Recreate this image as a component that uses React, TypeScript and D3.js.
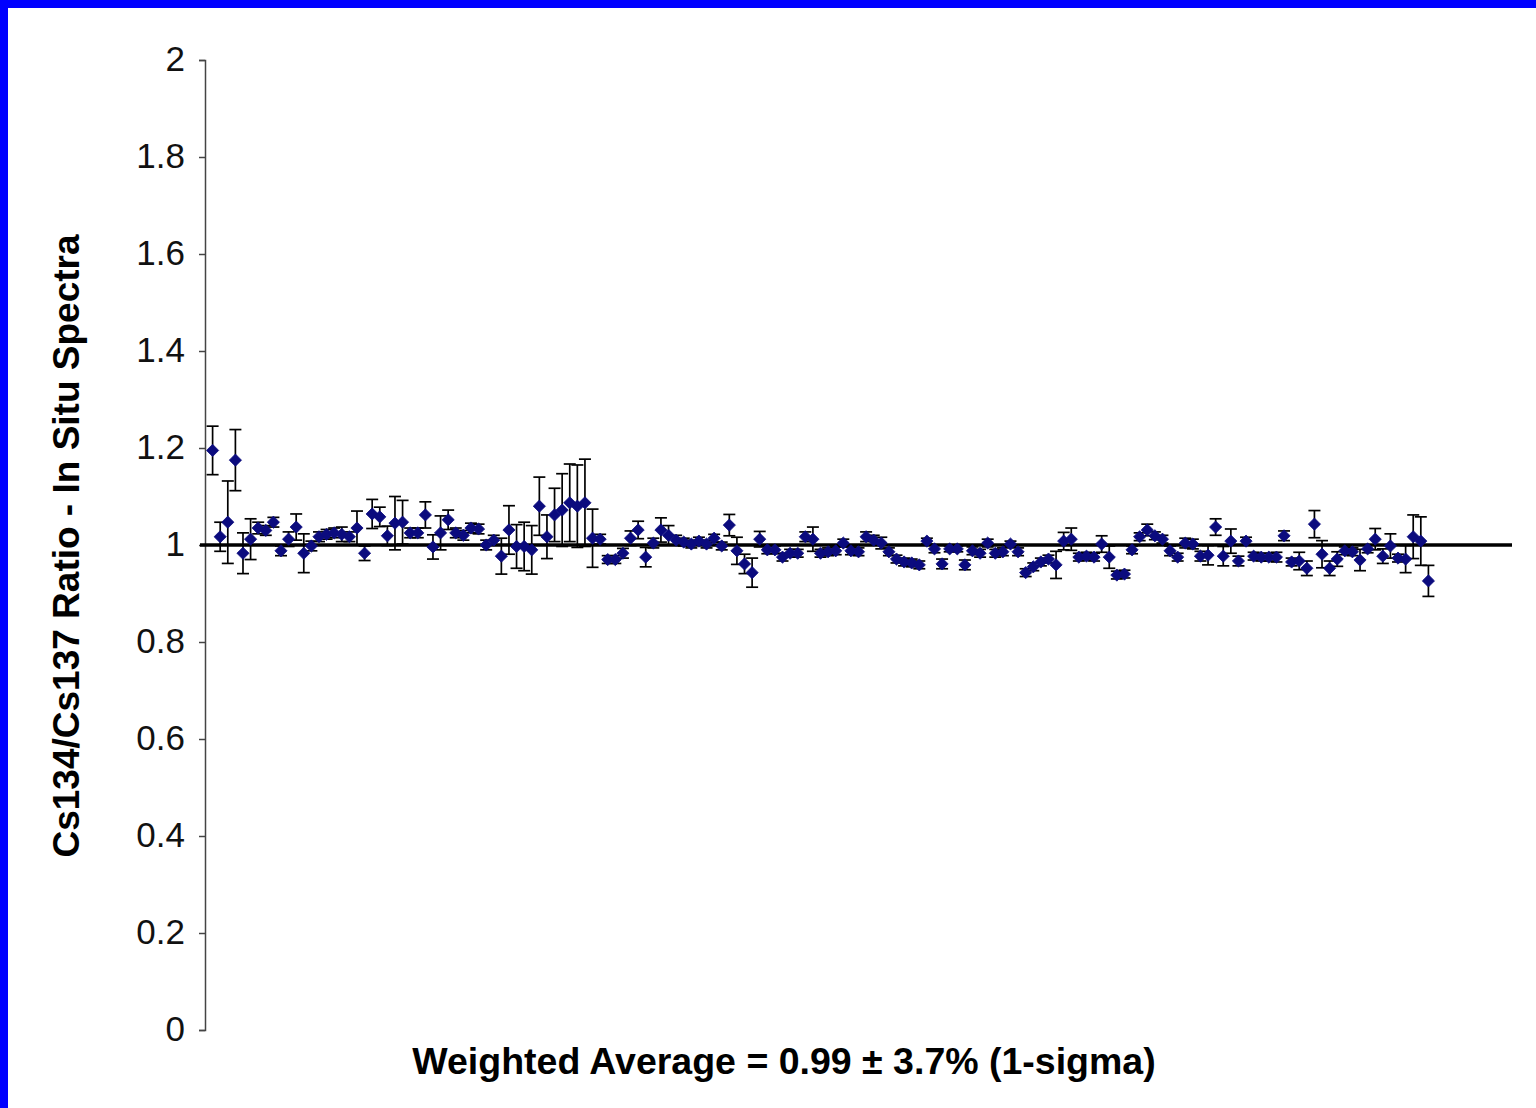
import React, { useEffect, useRef } from "react";
import * as d3 from "d3";

// Cs134/Cs137 ratio per spectrum
const ratios: number[] = [
  1.195, 1.017, 1.047, 1.175, 0.983, 1.012, 1.035, 1.030, 1.047, 0.988,
  1.012, 1.037, 0.983, 0.998, 1.017, 1.022, 1.025, 1.022, 1.017, 1.035,
  0.983, 1.064, 1.058, 1.019, 1.045, 1.047, 1.025, 1.025, 1.062, 0.996,
  1.025, 1.052, 1.025, 1.020, 1.035, 1.033, 1.000, 1.010, 0.977, 1.031,
  0.997, 0.997, 0.990, 1.080, 1.017, 1.062, 1.072, 1.087, 1.080, 1.087,
  1.014, 1.012, 0.970, 0.970, 0.983, 1.014, 1.031, 0.975, 1.004, 1.031,
  1.020, 1.010, 1.006, 1.002, 1.008, 1.002, 1.014, 0.998, 1.041, 0.988,
  0.961, 0.943, 1.012, 0.990, 0.990, 0.975, 0.983, 0.983, 1.017, 1.012,
  0.983, 0.986, 0.988, 1.004, 0.988, 0.986, 1.017, 1.010, 1.004, 0.986,
  0.971, 0.965, 0.963, 0.959, 1.008, 0.992, 0.961, 0.992, 0.992, 0.959,
  0.988, 0.983, 1.004, 0.983, 0.986, 1.002, 0.986, 0.943, 0.955, 0.965,
  0.971, 0.959, 1.008, 1.012, 0.975, 0.977, 0.975, 1.002, 0.975, 0.938,
  0.940, 0.990, 1.017, 1.031, 1.019, 1.012, 0.988, 0.975, 1.004, 1.002,
  0.977, 0.979, 1.037, 0.977, 1.008, 0.967, 1.008, 0.977, 0.975, 0.975,
  0.975, 1.019, 0.965, 0.967, 0.952, 1.043, 0.981, 0.952, 0.971, 0.988,
  0.986, 0.969, 0.992, 1.012, 0.977, 0.998, 0.973, 0.971, 1.017, 1.008,
  0.926,
];

// 1-sigma uncertainty of each ratio
const errors: number[] = [
  0.050, 0.030, 0.085, 0.063, 0.042, 0.042, 0.012, 0.010, 0.010, 0.010,
  0.015, 0.027, 0.040, 0.010, 0.010, 0.010, 0.010, 0.015, 0.010, 0.035,
  0.015, 0.030, 0.020, 0.020, 0.055, 0.045, 0.010, 0.010, 0.027, 0.025,
  0.035, 0.020, 0.010, 0.010, 0.010, 0.010, 0.010, 0.010, 0.037, 0.050,
  0.045, 0.050, 0.050, 0.060, 0.045, 0.055, 0.075, 0.080, 0.085, 0.090,
  0.060, 0.010, 0.008, 0.008, 0.010, 0.015, 0.018, 0.020, 0.010, 0.025,
  0.020, 0.010, 0.008, 0.008, 0.008, 0.008, 0.008, 0.008, 0.022, 0.028,
  0.020, 0.030, 0.016, 0.008, 0.008, 0.008, 0.008, 0.008, 0.010, 0.025,
  0.008, 0.008, 0.008, 0.008, 0.008, 0.008, 0.010, 0.010, 0.012, 0.008,
  0.008, 0.008, 0.008, 0.008, 0.006, 0.008, 0.010, 0.006, 0.006, 0.010,
  0.008, 0.008, 0.008, 0.008, 0.008, 0.006, 0.008, 0.008, 0.008, 0.008,
  0.008, 0.028, 0.018, 0.023, 0.008, 0.008, 0.008, 0.017, 0.023, 0.008,
  0.008, 0.008, 0.008, 0.012, 0.008, 0.008, 0.010, 0.008, 0.010, 0.010,
  0.010, 0.020, 0.017, 0.020, 0.025, 0.010, 0.008, 0.008, 0.008, 0.008,
  0.010, 0.010, 0.008, 0.018, 0.015, 0.028, 0.028, 0.015, 0.015, 0.008,
  0.008, 0.022, 0.008, 0.022, 0.015, 0.025, 0.008, 0.028, 0.045, 0.050,
  0.032,
];

const yTicks: number[] = [0, 0.2, 0.4, 0.6, 0.8, 1, 1.2, 1.4, 1.6, 1.8, 2];
const average = 1;
const yTitle = "Cs134/Cs137 Ratio - In Situ Spectra";
const xTitle = "Weighted Average = 0.99 ± 3.7% (1-sigma)";

const WIDTH = 1536;
const HEIGHT = 1108;

export default function App() {
  const ref = useRef<SVGSVGElement>(null);

  useEffect(() => {
    const svg = d3.select(ref.current);
    svg.selectAll("*").remove();

    const font = "'Liberation Sans', Arial, Helvetica, sans-serif";

    // frame: blue band on top and left edges
    svg.append("rect").attr("width", WIDTH).attr("height", HEIGHT).attr("fill", "#ffffff");
    svg.append("rect").attr("width", WIDTH).attr("height", 8).attr("fill", "#0000ff");
    svg.append("rect").attr("width", 8).attr("height", HEIGHT).attr("fill", "#0000ff");

    const x = d3.scaleLinear().domain([0, 172]).range([205, 1512]);
    const y = d3.scaleLinear().domain([0, 2]).range([1030, 60]);

    // y axis
    const axis = svg.append("g")
      .attr("transform", `translate(${x(0)},0)`)
      .call(d3.axisLeft(y).tickValues(yTicks).tickSize(6).tickPadding(14)
        .tickFormat(d => d3.format("~g")(d as number)));
    axis.select(".domain").attr("stroke", "#444").attr("stroke-width", 1.5);
    axis.selectAll(".tick line").attr("stroke", "#444").attr("stroke-width", 1.5);
    axis.selectAll(".tick text")
      .attr("font-family", font)
      .attr("font-size", 35)
      .attr("fill", "#111")
      .attr("dy", "0.3em");

    // average line
    svg.append("line")
      .attr("x1", x(0) - 5)
      .attr("x2", x(172))
      .attr("y1", y(average))
      .attr("y2", y(average))
      .attr("stroke", "#000")
      .attr("stroke-width", 3.5);

    const idx = d3.range(ratios.length);

    // error bars
    const bars = svg.append("g").attr("stroke", "#000").attr("stroke-width", 1.7);
    bars.selectAll("line.v")
      .data(idx)
      .join("line")
      .attr("class", "v")
      .attr("x1", i => x(i + 1))
      .attr("x2", i => x(i + 1))
      .attr("y1", i => y(ratios[i] + errors[i]))
      .attr("y2", i => y(ratios[i] - errors[i]));
    for (const sign of [1, -1]) {
      bars.selectAll(`line.cap${sign}`)
        .data(idx)
        .join("line")
        .attr("class", `cap${sign}`)
        .attr("x1", i => x(i + 1) - 6)
        .attr("x2", i => x(i + 1) + 6)
        .attr("y1", i => y(ratios[i] + sign * errors[i]))
        .attr("y2", i => y(ratios[i] + sign * errors[i]));
    }

    // diamond markers
    const diamond = d3.symbol(d3.symbolDiamond2, 95);
    svg.append("g")
      .selectAll("path")
      .data(idx)
      .join("path")
      .attr("d", diamond)
      .attr("transform", i => `translate(${x(i + 1)},${y(ratios[i])})`)
      .attr("fill", "#0b0b7e")
      .attr("stroke", "#0b0b7e")
      .attr("stroke-width", 0.8);

    // titles
    svg.append("text")
      .attr("transform", `translate(79,${y(1) + 1}) rotate(-90)`)
      .attr("text-anchor", "middle")
      .attr("font-family", font)
      .attr("font-weight", "bold")
      .attr("font-size", 37)
      .attr("fill", "#000")
      .text(yTitle);

    svg.append("text")
      .attr("x", 784)
      .attr("y", 1074)
      .attr("text-anchor", "middle")
      .attr("font-family", font)
      .attr("font-weight", "bold")
      .attr("font-size", 37.5)
      .attr("fill", "#000")
      .text(xTitle);
  }, []);

  return (
    <div style={{ position: "absolute", left: 0, top: 0 }}>
      <svg ref={ref} width={WIDTH} height={HEIGHT} style={{ display: "block" }} />
    </div>
  );
}
